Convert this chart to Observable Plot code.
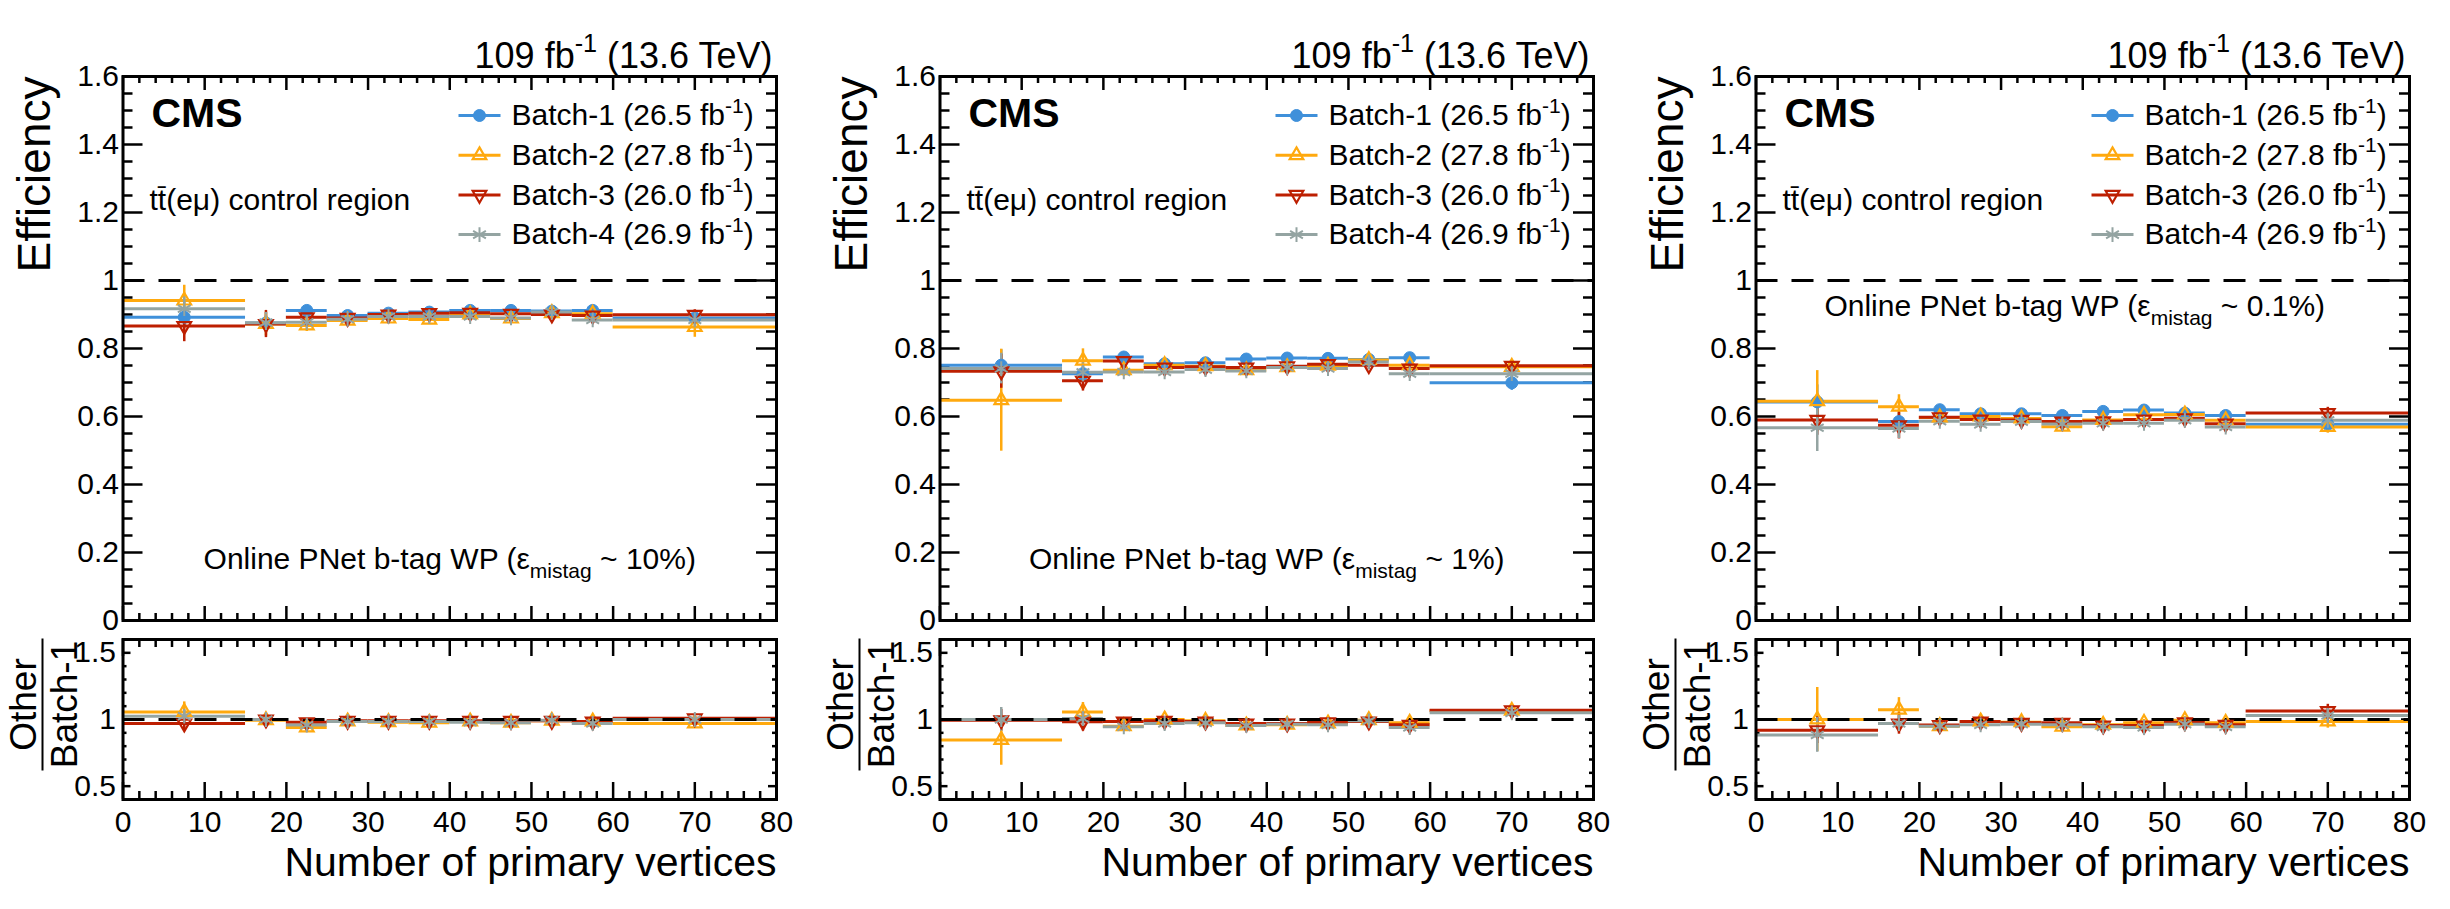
<!DOCTYPE html>
<html>
<head>
<meta charset="utf-8">
<script src="https://cdn.jsdelivr.net/npm/d3@7"></script>
<script src="https://cdn.jsdelivr.net/npm/@observablehq/plot@0.6"></script>
<style>
  body { margin: 0; background: white; }
  #chart { position: relative; width: 2450px; height: 909px; background: white; }
</style>
</head>
<body>
<div id="chart"></div>
<script>
// bins in number of primary vertices
const binEdges = [0, 15, 20, 25, 30, 35, 40, 45, 50, 55, 60, 80]
const batchNames = ["Batch-1", "Batch-2", "Batch-3", "Batch-4"]
const batchLumis = ["26.5", "27.8", "26.0", "26.9"]
const wpLabels = ["10%", "1%", "0.1%"]
const xTicks = [0, 10, 20, 30, 40, 50, 60, 70, 80]
const effTicks = [0, 0.2, 0.4, 0.6, 0.8, 1, 1.2, 1.4, 1.6]
const ratioTicks = [0.5, 1, 1.5]

/* WP ~10% */
const eff10B1 = [0.892, 0.875, 0.912, 0.897, 0.904, 0.907, 0.912, 0.912, 0.910, 0.912, 0.890]
const eff10B2 = [0.941, 0.872, 0.868, 0.882, 0.888, 0.885, 0.900, 0.888, 0.904, 0.902, 0.863]
const eff10B3 = [0.866, 0.872, 0.892, 0.890, 0.900, 0.904, 0.905, 0.902, 0.900, 0.897, 0.899]
const eff10B4 = [0.917, 0.876, 0.877, 0.886, 0.894, 0.894, 0.894, 0.890, 0.907, 0.884, 0.884]
const err10B1 = [0.030, 0.020, 0.006, 0.005, 0.005, 0.005, 0.005, 0.006, 0.007, 0.008, 0.012]
const err10B2 = [0.045, 0.035, 0.018, 0.010, 0.009, 0.010, 0.010, 0.011, 0.012, 0.013, 0.030]
const err10B3 = [0.046, 0.040, 0.012, 0.010, 0.009, 0.010, 0.010, 0.011, 0.012, 0.013, 0.015]
const err10B4 = [0.035, 0.030, 0.012, 0.010, 0.009, 0.010, 0.010, 0.011, 0.012, 0.013, 0.015]
const ratio10B2 = [1.057, 0.995, 0.940, 0.985, 0.980, 0.975, 0.985, 0.975, 0.990, 0.985, 0.970]
const ratio10B3 = [0.970, 1.000, 0.980, 0.990, 0.990, 0.990, 0.990, 0.990, 0.990, 0.985, 1.010]
const ratio10B4 = [1.025, 1.000, 0.958, 0.985, 0.985, 0.985, 0.980, 0.975, 0.995, 0.970, 1.000]
const rerr10B2 = [0.075, 0.045, 0.022, 0.015, 0.013, 0.014, 0.014, 0.015, 0.016, 0.017, 0.035]
const rerr10B3 = [0.055, 0.045, 0.016, 0.014, 0.012, 0.013, 0.013, 0.014, 0.015, 0.016, 0.020]
const rerr10B4 = [0.045, 0.040, 0.016, 0.014, 0.012, 0.013, 0.013, 0.014, 0.015, 0.016, 0.020]

/* WP ~1% */
const eff1B1 = [0.751, 0.726, 0.775, 0.755, 0.758, 0.769, 0.772, 0.771, 0.768, 0.773, 0.699]
const eff1B2 = [0.648, 0.764, 0.736, 0.751, 0.748, 0.736, 0.745, 0.749, 0.766, 0.751, 0.746]
const eff1B3 = [0.733, 0.705, 0.763, 0.744, 0.746, 0.744, 0.748, 0.754, 0.751, 0.741, 0.749]
const eff1B4 = [0.741, 0.730, 0.731, 0.731, 0.738, 0.734, 0.744, 0.741, 0.760, 0.726, 0.726]
const err1B1 = [0.045, 0.022, 0.007, 0.006, 0.006, 0.006, 0.006, 0.007, 0.008, 0.009, 0.022]
const err1B2 = [0.150, 0.035, 0.015, 0.012, 0.011, 0.012, 0.012, 0.013, 0.014, 0.015, 0.018]
const err1B3 = [0.050, 0.030, 0.013, 0.011, 0.010, 0.011, 0.011, 0.012, 0.013, 0.014, 0.016]
const err1B4 = [0.045, 0.028, 0.013, 0.011, 0.010, 0.011, 0.011, 0.012, 0.013, 0.014, 0.016]
const ratio1B2 = [0.847, 1.057, 0.950, 1.000, 0.990, 0.955, 0.960, 0.970, 0.995, 0.975, 1.065]
const ratio1B3 = [0.995, 0.983, 0.985, 0.990, 0.985, 0.970, 0.970, 0.980, 0.985, 0.960, 1.070]
const ratio1B4 = [1.000, 1.007, 0.945, 0.970, 0.975, 0.955, 0.965, 0.960, 0.990, 0.940, 1.050]
const rerr1B2 = [0.190, 0.070, 0.022, 0.018, 0.016, 0.017, 0.017, 0.018, 0.020, 0.021, 0.040]
const rerr1B3 = [0.080, 0.070, 0.019, 0.016, 0.015, 0.016, 0.016, 0.017, 0.018, 0.019, 0.040]
const rerr1B4 = [0.090, 0.050, 0.019, 0.016, 0.015, 0.016, 0.016, 0.017, 0.018, 0.019, 0.040]

/* WP ~0.1% */
const eff01B1 = [0.643, 0.585, 0.620, 0.608, 0.608, 0.603, 0.615, 0.619, 0.610, 0.603, 0.577]
const eff01B2 = [0.645, 0.629, 0.597, 0.600, 0.594, 0.570, 0.590, 0.605, 0.606, 0.589, 0.569]
const eff01B3 = [0.590, 0.574, 0.598, 0.591, 0.590, 0.585, 0.586, 0.591, 0.595, 0.579, 0.610]
const eff01B4 = [0.567, 0.565, 0.586, 0.577, 0.585, 0.578, 0.580, 0.580, 0.589, 0.569, 0.589]
const err01B1 = [0.050, 0.025, 0.008, 0.007, 0.007, 0.007, 0.007, 0.008, 0.009, 0.010, 0.020]
const err01B2 = [0.090, 0.035, 0.015, 0.013, 0.012, 0.013, 0.013, 0.014, 0.015, 0.016, 0.018]
const err01B3 = [0.045, 0.040, 0.014, 0.012, 0.011, 0.012, 0.012, 0.013, 0.014, 0.015, 0.017]
const err01B4 = [0.070, 0.030, 0.014, 0.012, 0.011, 0.012, 0.012, 0.013, 0.014, 0.015, 0.017]
const ratio01B2 = [1.000, 1.074, 0.950, 0.985, 0.980, 0.945, 0.960, 0.975, 0.995, 0.975, 0.985]
const ratio01B3 = [0.920, 0.970, 0.958, 0.985, 0.975, 0.975, 0.955, 0.955, 0.980, 0.960, 1.064]
const ratio01B4 = [0.884, 0.970, 0.950, 0.960, 0.965, 0.960, 0.945, 0.940, 0.965, 0.945, 1.030]
const rerr01B2 = [0.240, 0.090, 0.030, 0.025, 0.022, 0.024, 0.024, 0.025, 0.027, 0.030, 0.050]
const rerr01B3 = [0.100, 0.080, 0.028, 0.022, 0.020, 0.022, 0.022, 0.023, 0.025, 0.027, 0.050]
const rerr01B4 = [0.130, 0.060, 0.028, 0.022, 0.020, 0.022, 0.022, 0.023, 0.025, 0.027, 0.050]

/* estilos */
const FONT = '"Liberation Sans", Arial, Helvetica, sans-serif'
const colors = ["#3f90da", "#ffa90e", "#bd1f01", "#94a4a2"]
const triUp = {draw(c, size) {
  const s = Math.sqrt(size) * 0.6824, t = s / 2, u = s * Math.sqrt(3) / 2
  c.moveTo(0, -s); c.lineTo(u, t); c.lineTo(-u, t); c.closePath()
}}
const triDown = {draw(c, size) {
  const s = Math.sqrt(size) * 0.6824, t = s / 2, u = s * Math.sqrt(3) / 2
  c.moveTo(0, s); c.lineTo(u, -t); c.lineTo(-u, -t); c.closePath()
}}
const hLine = {draw(c) { c.moveTo(-21, 0); c.lineTo(21, 0) }}
const vBar = {draw(c) { c.moveTo(0, -66); c.lineTo(0, 66) }}
const markers = [
  {symbol: "circle", fill: colors[0], stroke: colors[0], r: 6, strokeWidth: 1},
  {symbol: triUp, fill: "none", stroke: colors[1], r: 6.5, strokeWidth: 2.2},
  {symbol: triDown, fill: "none", stroke: colors[2], r: 6.5, strokeWidth: 2.2},
  {symbol: "asterisk", fill: "none", stroke: colors[3], r: 7, strokeWidth: 2}
]

const PW = 2450 / 3, ML = 122.5, MR = 41, FW = 817 - ML - MR

/* filas por bin para una serie */
function rows(vals, errs) {
  return vals.map((v, i) => ({
    lo: binEdges[i], hi: binEdges[i + 1], x: (binEdges[i] + binEdges[i + 1]) / 2,
    y: v, e: errs[i]
  }))
}

function bars(vals, errs, k) {
  const data = rows(vals, errs)
  return [
    Plot.ruleY(data, {y: "y", x1: "lo", x2: "hi", stroke: colors[k], strokeWidth: 3}),
    Plot.ruleX(data, {x: "x", y1: d => d.y - d.e, y2: d => d.y + d.e, stroke: colors[k], strokeWidth: 2.5})
  ]
}
function dots(vals, errs, k) {
  return Plot.dot(rows(vals, errs), {x: "x", y: "y", ...markers[k]})
}

/* ticks hacia adentro en los 4 lados */
function frameTicks(H, yMajor, yMinor, lx, sx, ly, sy) {
  const xMinor = d3.range(2, 80, 2).filter(v => v % 10 !== 0)
  const st = {stroke: "black", strokeWidth: 2.5}
  return [
    Plot.tickX(xTicks, {x: d => d, insetTop: H - lx, ...st}),
    Plot.tickX(xTicks, {x: d => d, insetBottom: H - lx, ...st}),
    Plot.tickX(xMinor, {x: d => d, insetTop: H - sx, ...st}),
    Plot.tickX(xMinor, {x: d => d, insetBottom: H - sx, ...st}),
    Plot.tickY(yMajor, {y: d => d, insetRight: FW - ly, ...st}),
    Plot.tickY(yMajor, {y: d => d, insetLeft: FW - ly, ...st}),
    Plot.tickY(yMinor, {y: d => d, insetRight: FW - sy, ...st}),
    Plot.tickY(yMinor, {y: d => d, insetLeft: FW - sy, ...st})
  ]
}

/* ^{...} y _{...} -> tspans */
function richText(svg) {
  d3.select(svg).selectAll("text").each(function () {
    const raw = this.textContent
    if (!/[\^_]\{/.test(raw)) return
    const fs = parseFloat(getComputedStyle(this).fontSize) || 30
    const t = d3.select(this).text(null)
    let shift = 0
    for (const part of raw.split(/([\^_]\{[^}]*\})/)) {
      if (!part) continue
      const m = part.match(/^([\^_])\{(.*)\}$/)
      const target = m ? (m[1] === "^" ? -0.42 * fs : 0.3 * fs) : 0
      t.append("tspan")
        .attr("dy", target - shift)
        .attr("font-size", m ? fs * 0.7 : null)
        .text(m ? m[2] : part)
      shift = target
    }
  })
}

const chart = document.getElementById("chart")
function place(svg, left, top) {
  svg.style.position = "absolute"
  svg.style.left = left + "px"
  svg.style.top = top + "px"
  svg.style.overflow = "visible"
  svg.style.background = "transparent"
  chart.append(svg)
  richText(svg)
}

const panels = [
  {eff: [eff10B1, eff10B2, eff10B3, eff10B4], err: [err10B1, err10B2, err10B3, err10B4],
   ratio: [ratio10B2, ratio10B3, ratio10B4], rerr: [rerr10B2, rerr10B3, rerr10B4], wp: wpLabels[0], noteTop: false},
  {eff: [eff1B1, eff1B2, eff1B3, eff1B4], err: [err1B1, err1B2, err1B3, err1B4],
   ratio: [ratio1B2, ratio1B3, ratio1B4], rerr: [rerr1B2, rerr1B3, rerr1B4], wp: wpLabels[1], noteTop: false},
  {eff: [eff01B1, eff01B2, eff01B3, eff01B4], err: [err01B1, err01B2, err01B3, err01B4],
   ratio: [ratio01B2, ratio01B3, ratio01B4], rerr: [rerr01B2, rerr01B3, rerr01B4], wp: wpLabels[2], noteTop: true}
]

panels.forEach((p, i) => {
  const left = Math.round(i * PW)
  const note = `Online PNet b-tag WP (ε_{mistag} ~ ${p.wp})`

  /* legend */
  const legend = batchNames.flatMap((name, k) => {
    const dy = 39 + 39.7 * k
    return [
      Plot.dot([0], {frameAnchor: "top-left", dx: 356.5, dy, symbol: hLine, stroke: colors[k], strokeWidth: 3}),
      Plot.dot([0], {frameAnchor: "top-left", dx: 356.5, dy, ...markers[k]}),
      Plot.text([`${name} (${batchLumis[k]} fb^{-1})`], {frameAnchor: "top-left", dx: 388.5, dy,
        text: d => d, textAnchor: "start", lineAnchor: "middle", fontSize: 30, fill: "black"})
    ]
  })

  /* Panel superior: eficiencia */
  const upper = Plot.plot({
    width: 817, height: 630,
    marginLeft: ML, marginRight: MR, marginTop: 76, marginBottom: 10,
    style: {fontFamily: FONT, background: "transparent"},
    x: {domain: [0, 80], axis: null},
    y: {domain: [0, 1.6]},
    marks: [
      Plot.axisY({ticks: effTicks, tickSize: 0, tickPadding: 4, tickFormat: d3.format("~g"), fontSize: 30, label: null}),
      ...frameTicks(544, effTicks, d3.range(1, 32).filter(j => j % 4).map(j => j * 0.05), 14, 7, 20, 10),
      Plot.ruleY([1], {stroke: "black", strokeWidth: 3, strokeDasharray: "22,14"}),
      ...p.eff.flatMap((v, k) => bars(v, p.err[k], k)),
      ...p.eff.map((v, k) => dots(v, p.err[k], k)),
      Plot.text(["109 fb^{-1} (13.6 TeV)"], {frameAnchor: "top-right", text: d => d, textAnchor: "end",
        lineAnchor: "bottom", dx: -4, dy: -9, fontSize: 36, fill: "black"}),
      Plot.text(["CMS"], {frameAnchor: "top-left", text: d => d, textAnchor: "start", lineAnchor: "bottom",
        dx: 28.5, dy: 50, fontSize: 41, fontWeight: "bold", fill: "black"}),
      Plot.text(["tt\u0304(eμ) control region"], {frameAnchor: "top-left", text: d => d, textAnchor: "start",
        lineAnchor: "bottom", dx: 26.5, dy: 133, fontSize: 30, fill: "black"}),
      Plot.text([note], {frameAnchor: p.noteTop ? "top" : "bottom", text: d => d, lineAnchor: "bottom",
        dx: p.noteTop ? -8 : 0, dy: p.noteTop ? 239 : -52, fontSize: 30, fill: "black"}),
      Plot.text(["Efficiency"], {frameAnchor: "top-left", text: d => d, rotate: -90, textAnchor: "end",
        lineAnchor: "middle", dx: -87.5, dy: 0, fontSize: 46, fill: "black"}),
      ...legend,
      Plot.frame({stroke: "black", strokeWidth: 3})
    ]
  })
  place(upper, left, 0)

  /* Panel inferior: cociente respecto a Batch-1 */
  const lower = Plot.plot({
    width: 817, height: 279,
    marginLeft: ML, marginRight: MR, marginTop: 9, marginBottom: 110,
    style: {fontFamily: FONT, background: "transparent"},
    x: {domain: [0, 80]},
    y: {domain: [0.4, 1.6]},
    marks: [
      Plot.axisY({ticks: ratioTicks, tickSize: 0, tickPadding: 7, tickFormat: d3.format("~g"), fontSize: 30, label: null}),
      Plot.axisX({ticks: xTicks, tickSize: 0, tickPadding: 11, fontSize: 30, label: null}),
      ...frameTicks(160, ratioTicks, [0.4, 0.6, 0.7, 0.8, 0.9, 1.1, 1.2, 1.3, 1.4, 1.6], 17, 8, 8, 4),
      ...p.ratio.flatMap((v, k) => bars(v, p.rerr[k], k + 1)),
      Plot.ruleY([1], {stroke: "black", strokeWidth: 3, strokeDasharray: "22,14"}),
      ...p.ratio.map((v, k) => dots(v, p.rerr[k], k + 1)),
      Plot.text(["Number of primary vertices"], {frameAnchor: "bottom-right", text: d => d, textAnchor: "end",
        lineAnchor: "bottom", dy: 76, fontSize: 41, fill: "black"}),
      Plot.text(["Other"], {frameAnchor: "left", text: d => d, rotate: -90, textAnchor: "middle",
        lineAnchor: "bottom", dx: -87.5, dy: -15, fontSize: 37, fill: "black"}),
      Plot.dot([0], {frameAnchor: "left", dx: -80.5, dy: -15, symbol: vBar, stroke: "black", strokeWidth: 2}),
      Plot.text(["Batch-1"], {frameAnchor: "left", text: d => d, rotate: -90, textAnchor: "middle",
        lineAnchor: "top", dx: -72.5, dy: -15, fontSize: 37, fill: "black"}),
      Plot.frame({stroke: "black", strokeWidth: 3})
    ]
  })
  place(lower, left, 630)
})
</script>
</body>
</html>
